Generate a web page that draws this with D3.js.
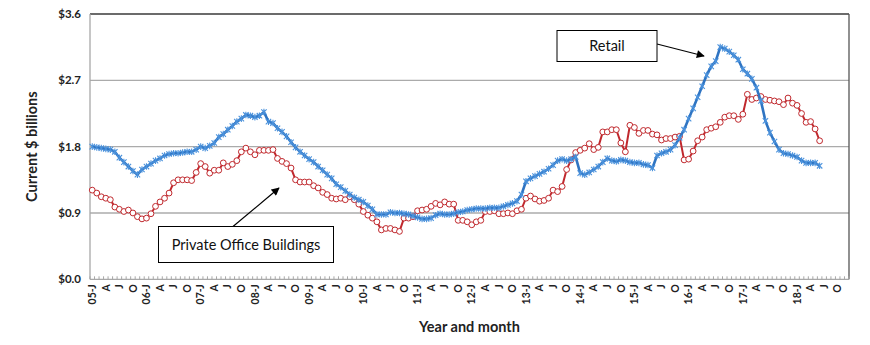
<!DOCTYPE html>
<html>
<head>
<meta charset="utf-8">
<script src="https://cdn.jsdelivr.net/npm/d3@7"></script>
<style>
  html, body { margin: 0; padding: 0; background: #fff; }
  svg { display: block; font-family: Lato, "Open Sans", sans-serif; }
</style>
</head>
<body>
<svg id="chart" width="870" height="345"></svg>
<script>
// ---------------- DATA ----------------
const years = [2005, 2006, 2007, 2008, 2009, 2010, 2011, 2012, 2013, 2014, 2015, 2016, 2017, 2018];
const monthNums = ["01","02","03","04","05","06","07","08","09","10","11","12"];
const categories = years.flatMap(y => monthNums.map(m => `${y}-${m}`)); // Jan 2005 .. Dec 2018

const tickLabels = [
  "05-J","A","J","O","06-J","A","J","O","07-J","A","J","O","08-J","A","J","O",
  "09-J","A","J","O","10-J","A","J","O","11-J","A","J","O","12-J","A","J","O",
  "13-J","A","J","O","14-J","A","J","O","15-J","A","J","O","16-J","A","J","O",
  "17-J","A","J","O","18-J","A","J","O"
];

const yTicks = [0, 0.9, 1.8, 2.7, 3.6];
const yTickLabels = ["$0.0", "$0.9", "$1.8", "$2.7", "$3.6"];

// Private Office Buildings, current $ billions, monthly from Jan 2005
const privateOffice = [
  1.21,1.17,1.12,1.10,1.08,0.98,0.95,0.92,0.94,0.90,0.85,0.82,
  0.83,0.89,0.99,1.05,1.10,1.17,1.31,1.35,1.35,1.35,1.34,1.45,
  1.57,1.53,1.44,1.48,1.48,1.58,1.53,1.56,1.61,1.73,1.78,1.73,
  1.69,1.75,1.75,1.75,1.76,1.64,1.60,1.57,1.51,1.35,1.32,1.32,
  1.32,1.27,1.24,1.18,1.15,1.10,1.09,1.10,1.08,1.12,1.08,1.02,
  0.92,0.87,0.83,0.78,0.67,0.69,0.69,0.67,0.65,0.83,0.83,0.85,
  0.93,0.94,0.95,0.99,1.03,1.01,1.05,1.02,1.02,0.80,0.80,0.78,
  0.74,0.78,0.80,0.92,0.92,0.93,0.89,0.89,0.90,0.89,0.93,0.95,
  1.10,1.13,1.09,1.06,1.07,1.10,1.21,1.19,1.26,1.49,1.62,1.72,
  1.75,1.78,1.84,1.76,1.79,2.00,2.00,2.03,2.03,1.85,1.73,2.09,
  2.06,1.98,2.02,2.02,1.97,1.96,1.89,1.91,1.91,1.93,1.94,1.62,
  1.63,1.74,1.88,1.93,2.03,2.05,2.07,2.13,2.20,2.22,2.22,2.17,
  2.24,2.51,2.44,2.46,2.48,2.44,2.43,2.42,2.41,2.37,2.46,2.39,
  2.36,2.25,2.13,2.14,2.04,1.88
];

// Retail, current $ billions, monthly from Jan 2005
const retail = [
  1.80,1.79,1.78,1.77,1.76,1.73,1.65,1.59,1.53,1.47,1.42,1.49,
  1.53,1.57,1.61,1.64,1.68,1.70,1.71,1.71,1.72,1.73,1.73,1.76,
  1.80,1.78,1.81,1.85,1.93,1.97,2.03,2.08,2.14,2.18,2.23,2.22,
  2.20,2.22,2.27,2.14,2.12,2.05,2.00,1.94,1.86,1.79,1.73,1.68,
  1.63,1.59,1.53,1.48,1.42,1.37,1.29,1.25,1.20,1.15,1.11,1.08,
  1.05,1.00,0.95,0.88,0.88,0.88,0.91,0.90,0.90,0.89,0.88,0.86,
  0.84,0.82,0.82,0.83,0.87,0.89,0.88,0.88,0.89,0.91,0.92,0.94,
  0.95,0.96,0.96,0.96,0.97,0.97,0.97,0.99,1.01,1.03,1.06,1.15,
  1.33,1.37,1.40,1.43,1.46,1.50,1.55,1.61,1.63,1.61,1.63,1.66,
  1.44,1.42,1.45,1.49,1.53,1.59,1.64,1.61,1.60,1.62,1.61,1.59,
  1.58,1.58,1.56,1.55,1.51,1.68,1.71,1.73,1.76,1.82,1.92,2.03,
  2.18,2.32,2.47,2.62,2.77,2.89,2.96,3.15,3.13,3.09,3.04,2.98,
  2.85,2.79,2.72,2.60,2.42,2.15,1.99,1.87,1.76,1.71,1.70,1.68,
  1.66,1.61,1.58,1.58,1.58,1.54
];

// ---------------- LAYOUT ----------------
const W = 870, H = 345;
const plot = { left: 90, right: 849, top: 14, bottom: 279.3 };
const blue = "#2f74c2", blueMark = "#4b92dc", red = "#c0282d";

const svg = d3.select("#chart");
svg.append("rect").attr("width", W).attr("height", H).attr("fill", "#fff");

const x = d3.scaleBand().domain(categories).range([plot.left, plot.right]).padding(0);
const bw = x.bandwidth();
const cx = i => x(categories[i]) + bw / 2;
const y = d3.scaleLinear().domain([0, 3.6]).range([plot.bottom, plot.top]);

// gridlines
svg.append("g").selectAll("line").data(yTicks.filter(v => v > 0 && v < 3.6)).join("line")
  .attr("x1", plot.left).attr("x2", plot.right)
  .attr("y1", d => y(d)).attr("y2", d => y(d))
  .attr("stroke", "#ababab").attr("stroke-width", 1.3);

// plot border: top & right dark, left & bottom gray
svg.append("line").attr("x1", plot.left).attr("x2", plot.right).attr("y1", y(3.6)).attr("y2", y(3.6))
  .attr("stroke", "#3a3a3a").attr("stroke-width", 1.3);
svg.append("line").attr("x1", plot.right).attr("x2", plot.right).attr("y1", plot.top).attr("y2", plot.bottom)
  .attr("stroke", "#555").attr("stroke-width", 1.3);
svg.append("line").attr("x1", plot.left).attr("x2", plot.left).attr("y1", plot.top).attr("y2", plot.bottom)
  .attr("stroke", "#a8a8a8").attr("stroke-width", 1.3);
svg.append("line").attr("x1", plot.left).attr("x2", plot.right).attr("y1", plot.bottom).attr("y2", plot.bottom)
  .attr("stroke", "#a8a8a8").attr("stroke-width", 1.3);

// minor month ticks (inward)
svg.append("g").selectAll("line").data(d3.range(categories.length + 1)).join("line")
  .attr("x1", i => plot.left + i * bw).attr("x2", i => plot.left + i * bw)
  .attr("y1", plot.bottom).attr("y2", plot.bottom - 3)
  .attr("stroke", "#a8a8a8").attr("stroke-width", 1);

// y tick labels
svg.append("g").selectAll("text").data(yTicks).join("text")
  .attr("x", 81).attr("y", d => y(d)).attr("dy", "0.35em")
  .attr("text-anchor", "end").attr("font-size", 11.5).attr("font-weight", 700)
  .attr("fill", "#222").text((d, i) => yTickLabels[i]);

// x tick labels (every 3 months), rotated
const xTickIdx = d3.range(0, categories.length, 3);
svg.append("g").selectAll("text").data(xTickIdx).join("text")
  .attr("transform", i => `translate(${cx(i)},${plot.bottom + 5}) rotate(-90)`)
  .attr("dy", "0.35em").attr("text-anchor", "end")
  .attr("font-size", 10.5).attr("font-weight", 700).attr("fill", "#222")
  .text((i, k) => tickLabels[k]);

// axis titles
svg.append("text").attr("transform", `translate(32,${(plot.top + plot.bottom) / 2}) rotate(-90)`)
  .attr("text-anchor", "middle").attr("dy", "0.35em")
  .attr("font-size", 14.5).attr("font-weight", 700).attr("fill", "#222")
  .text("Current $ billions");
svg.append("text").attr("x", (plot.left + plot.right) / 2).attr("y", 327).attr("dy", "0.35em")
  .attr("text-anchor", "middle").attr("font-size", 14.5).attr("font-weight", 700).attr("fill", "#222")
  .text("Year and month");

// ---------------- SERIES ----------------
const line = d3.line().x((d, i) => cx(i)).y(d => y(d));

// Private office (red circles)
svg.append("path").datum(privateOffice).attr("d", line)
  .attr("fill", "none").attr("stroke", red).attr("stroke-width", 2);
svg.append("g").selectAll("circle").data(privateOffice).join("circle")
  .attr("cx", (d, i) => cx(i)).attr("cy", d => y(d)).attr("r", 2.9)
  .attr("fill", "#fff").attr("stroke", red).attr("stroke-width", 1);

// Retail (blue star markers)
svg.append("path").datum(retail).attr("d", line)
  .attr("fill", "none").attr("stroke", blue).attr("stroke-width", 2.6);
svg.append("g").selectAll("path").data(retail).join("path")
  .attr("transform", (d, i) => `translate(${cx(i)},${y(d)})`)
  .attr("d", "M-2.7,-2.7L2.7,2.7M-2.7,2.7L2.7,-2.7M0,-3.3L0,3.3")
  .attr("stroke", blueMark).attr("stroke-width", 1.1).attr("fill", "none");

// ---------------- ANNOTATIONS ----------------
const defs = svg.append("defs");
defs.append("marker").attr("id", "arr").attr("viewBox", "0 0 10 10")
  .attr("refX", 9).attr("refY", 5).attr("markerWidth", 9).attr("markerHeight", 8)
  .attr("markerUnits", "userSpaceOnUse").attr("orient", "auto")
  .append("path").attr("d", "M0,0L10,5L0,10Z").attr("fill", "#000");

function callout(x0, y0, w, h, label, ax1, ay1, ax2, ay2) {
  svg.append("line").attr("x1", ax1).attr("y1", ay1).attr("x2", ax2).attr("y2", ay2)
    .attr("stroke", "#000").attr("stroke-width", 1.2).attr("marker-end", "url(#arr)");
  svg.append("rect").attr("x", x0).attr("y", y0).attr("width", w).attr("height", h)
    .attr("fill", "#fff").attr("stroke", "#000").attr("stroke-width", 1);
  svg.append("text").attr("x", x0 + w / 2).attr("y", y0 + h / 2).attr("dy", "0.35em")
    .attr("text-anchor", "middle").attr("font-size", 14.5).attr("fill", "#111").text(label);
}
callout(557, 30.5, 100, 31, "Retail", 657, 44, 704, 56);
callout(158.5, 226.5, 175, 36, "Private Office Buildings", 233, 226.5, 279, 188);
</script>
</body>
</html>
